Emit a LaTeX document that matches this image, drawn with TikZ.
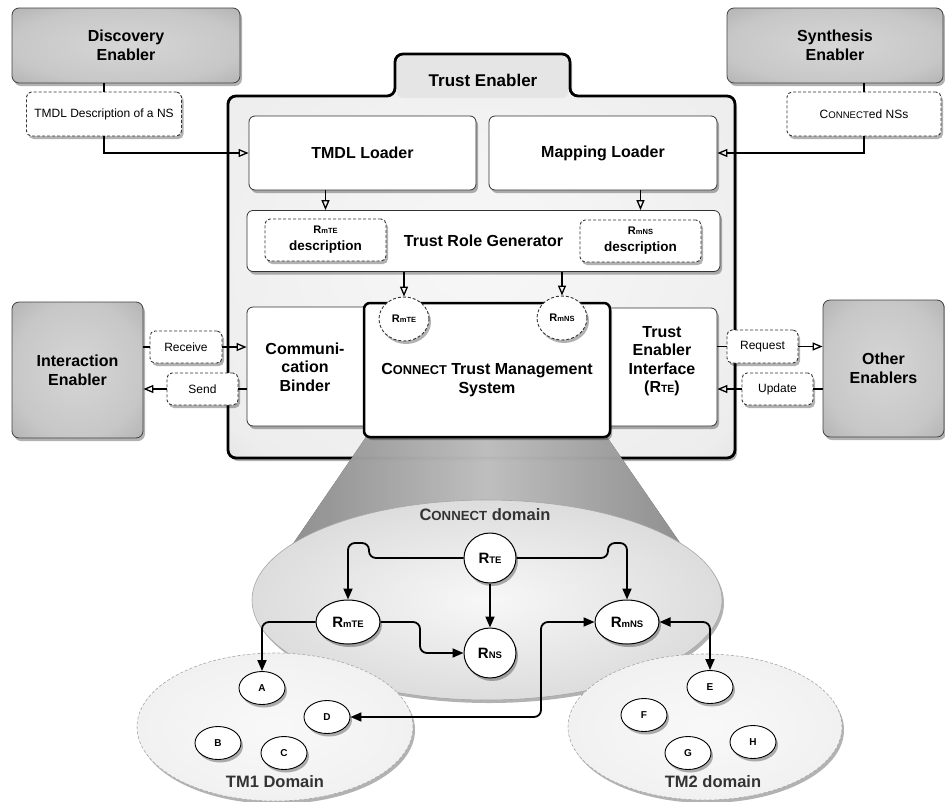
\documentclass[tikz,border=0pt]{standalone}
\usepackage{fontspec}
\setmainfont{Liberation Sans}
\usetikzlibrary{arrows.meta,shapes.geometric,shadows}
\newcommand\myfs[2]{\fontsize{#1}{#2}\selectfont}
\newcommand\Rx[3]{{\myfs{#1}{#1}R}{\myfs{#2}{#2}#3}}
\newcommand\cnct[1]{C{\myfs{#1}{#1}ONNECT}}
\definecolor{darktxt}{HTML}{333333}
\pgfdeclareradialshading{frameshade}{\pgfpoint{0bp}{0bp}}{color(0bp)=(black!3); color(32bp)=(black!7); color(46bp)=(black!18); color(54bp)=(black!36); color(75bp)=(black!45)}
\pgfdeclareradialshading{enashade}{\pgfpoint{0bp}{0bp}}{color(0bp)=(black!16); color(25bp)=(black!22); color(50bp)=(black!40); color(75bp)=(black!50)}
\begin{document}
\begin{tikzpicture}[x=1pt,y=-1pt,
  shadowed/.style={drop shadow={shadow xshift=2pt,shadow yshift=-3pt,opacity=0.3,fill=black}},
  enabler/.style={shadowed,draw=black!75,line width=0.8pt,rounded corners=7pt,shading=enashade,font=\bfseries\myfs{16}{19},align=center,inner sep=0pt},
  wbox/.style={shadowed,draw=black!80,fill=white,line width=0.8pt,rounded corners=6pt,font=\bfseries\myfs{16}{18.5},align=center,inner sep=0pt},
  dsh/.style={draw=black!80,dash pattern=on 3pt off 2pt,line width=0.9pt},
  msg/.style={shadowed,dsh,fill=white,rounded corners=5pt,font=\myfs{12}{14},align=center,inner sep=0pt},
  desc/.style={msg,font=\bfseries\myfs{13.5}{17}},
  smallrole/.style={shadowed,ellipse,dsh,fill=white,inner sep=0pt,font=\bfseries},
  role/.style={shadowed,ellipse,draw=black,fill=white,line width=1pt,inner sep=0pt,font=\bfseries},
  leaf/.style={shadowed,ellipse,draw=black,fill=white,line width=0.9pt,inner sep=0pt,minimum width=46pt,minimum height=33pt,font=\bfseries\myfs{10}{12}},
  tmdom/.style={shadowed,ellipse,draw=gray!70,dash pattern=on 3pt off 2pt,line width=0.6pt,inner color=gray!5,outer color=gray!11,inner sep=0pt},
  domlab/.style={font=\bfseries\myfs{16.5}{19},text=darktxt},
  conn/.style={line width=1.5pt},
  oarr/.style={-{Triangle[open,length=10pt,width=8pt,line width=1.3pt]}},
  bconn/.style={line width=1.8pt,rounded corners=7pt},
  farr/.style={-{Triangle[length=11pt,width=9pt]}},
  darr/.style={{Triangle[length=11pt,width=9pt]}-{Triangle[length=11pt,width=9pt]}}
]
\useasboundingbox (0,0) rectangle (945,801);

% outer enablers
\node[enabler,minimum width=228pt,minimum height=75pt] (disc) at (126,45.5) {Discovery\\Enabler};
\node[enabler,minimum width=216pt,minimum height=75pt] (syn) at (835,45.5) {Synthesis\\Enabler};
\node[enabler,minimum width=131pt,minimum height=136pt] (inter) at (77.5,370) {Interaction\\Enabler};
\node[enabler,minimum width=121pt,minimum height=137pt] (other) at (883.5,368.5) {Other\\Enablers};

% Trust Enabler frame with tab
\path[shadowed,draw=black,line width=2.8pt,rounded corners=8pt,shading=frameshade]
  (228,96) -- (395,96) -- (395,54) -- (570,54) -- (570,96) -- (735,96) -- (735,458) -- (228,458) -- cycle;
\fill[black!10,rounded corners=6pt] (397,56) rectangle (568,98);
\node[font=\bfseries\myfs{17}{20}] (tetitle) at (483,80) {Trust Enabler};

% cone of the magnifier
\fill[left color=gray!80,right color=gray!80,middle color=gray!30,opacity=0.85]
  (366,437) -- (607,437) -- (714,592) -- (260,592) -- cycle;

% inner boxes
\node[wbox,minimum width=227pt,minimum height=74pt] (tmdl) at (362.5,153) {TMDL Loader};
\node[wbox,minimum width=228pt,minimum height=74pt] (map) at (603,153) {Mapping Loader};
\node[wbox,minimum width=473pt,minimum height=61pt] (trg) at (483.5,241) {Trust Role Generator};
\node[desc,minimum width=121pt,minimum height=42pt] (rmtedesc) at (325.5,240) {\Rx{11}{7.5}{mTE}\\description};
\node[desc,minimum width=121pt,minimum height=42pt] (rmnsdesc) at (640.5,241) {\Rx{11}{7.5}{mNS}\\description};
\node[wbox,minimum width=123pt,minimum height=119pt] (binder) at (308.5,366.5) {};
\node[font=\bfseries\myfs{16}{18.5},align=center] (bindertxt) at (305,367) {Communi-\\cation\\Binder};
\node[wbox,minimum width=116pt,minimum height=118pt] (tei) at (659,367) {};
\node[font=\bfseries\myfs{16}{18.5},align=center] (teitxt) at (662,361) {Trust\\Enabler\\Interface\\(\Rx{16}{10.5}{TE})};
\node[wbox,draw=black,line width=2.5pt,minimum width=246pt,minimum height=134pt] (tms) at (487,370) {};
\node[font=\bfseries\myfs{16}{19},align=center] (tmstxt) at (487,380) {\cnct{12.8} Trust Management\\System};
\node[smallrole,minimum width=50pt,minimum height=44pt] (cmte) at (404,319) {\Rx{11}{7.5}{mTE}};
\node[smallrole,minimum width=50pt,minimum height=44pt] (cmns) at (562,318) {\Rx{11}{7.5}{mNS}};

% message boxes
\node[msg,minimum width=155pt,minimum height=44pt] (tmdldesc) at (104,114) {TMDL Description of a NS};
\node[msg,minimum width=154pt,minimum height=44pt] (cnsd) at (864,114) {\cnct{9.6}ed NSs};
\node[msg,minimum width=72pt,minimum height=32pt] (recv) at (186,347) {Receive};
\node[msg,minimum width=71pt,minimum height=32pt] (send) at (202.5,389) {Send};
\node[msg,minimum width=71pt,minimum height=33pt] (req) at (762.5,346.5) {Request};
\node[msg,minimum width=71pt,minimum height=32pt] (upd) at (777.5,389) {Update};

% upper connectors
\draw[conn] (disc.south -| tmdldesc.north) -- (tmdldesc.north);
\draw[conn,oarr] (tmdldesc.south) |- (tmdl.west);
\draw[conn] (syn.south -| cnsd.north) -- (cnsd.north);
\draw[conn,oarr] (cnsd.south) |- (map.east);
\draw[conn,oarr] (tmdl.south -| rmtedesc.north) -- (rmtedesc.north |- trg.north);
\draw[conn,oarr] (map.south -| rmnsdesc.north) -- (rmnsdesc.north |- trg.north);
\draw[conn,oarr] (trg.south -| cmte.north) -- (cmte.north);
\draw[conn,oarr] (trg.south -| cmns.north) -- (cmns.north);
\draw[conn] (inter.east |- recv.west) -- (recv.west);
\draw[conn,oarr] (recv.east) -- (recv.east -| binder.west);
\draw[conn] (binder.west |- send.east) -- (send.east);
\draw[conn,oarr] (send.west) -- (send.west -| inter.east);
\draw[conn] (tei.east |- req.west) -- (req.west);
\draw[conn,oarr] (req.east) -- (req.east -| other.west);
\draw[conn] (other.west |- upd.east) -- (upd.east);
\draw[conn,oarr] (upd.west) -- (upd.west -| tei.east);

% domains
\node[shadowed,ellipse,draw=gray!70,line width=0.6pt,inner color=gray!6,outer color=gray!27,minimum width=470pt,minimum height=200pt,inner sep=0pt] (cdom) at (487,600) {};
\node[domlab] (cdlab) at (485,515) {\cnct{13.2} domain};
\node[tmdom,minimum width=276pt,minimum height=148pt] (tm1) at (275,727) {};
\node[tmdom,minimum width=274pt,minimum height=146pt] (tm2) at (705,727) {};
\node[domlab] (tm1lab) at (275,782) {TM1 Domain};
\node[domlab] (tm2lab) at (713,782) {TM2 domain};

% role nodes
\node[role,minimum width=52pt,minimum height=50pt] (rte) at (490,558) {\Rx{15}{9.5}{TE}};
\node[role,minimum width=64pt,minimum height=44pt] (rmte) at (348,622) {\Rx{15}{9.5}{mTE}};
\node[role,minimum width=52pt,minimum height=50pt] (rns) at (490,653) {\Rx{15}{9.5}{NS}};
\node[role,minimum width=64pt,minimum height=44pt] (rmns) at (627,622) {\Rx{15}{9.5}{mNS}};

\node[leaf] (A) at (262,688) {A};
\node[leaf] (B) at (218,743) {B};
\node[leaf] (C) at (284,753) {C};
\node[leaf] (D) at (327,717) {D};
\node[leaf] (E) at (710,687) {E};
\node[leaf] (F) at (644,715) {F};
\node[leaf] (G) at (688,753) {G};
\node[leaf] (H) at (753,742) {H};

% lower connectors
\draw[bconn,farr] (rte.west) -- (369,558) -- (369,543) -- (348,543) -- (rmte.north);
\draw[bconn,farr] (rte.east) -- (608,558) -- (608,543) -- (627,543) -- (rmns.north);
\draw[bconn,farr] (rte.south) -- (rns.north);
\draw[bconn,farr] (rmte.east) -- (420,622) -- (420,653) -- (rns.west);
\draw[bconn,farr] (rmte.west) -| (A.north);
\draw[bconn,darr] (D.east) -- (541,717) -- (541,622) -- (rmns.west);
\draw[bconn,darr] (rmns.east) -| (E.north);
\end{tikzpicture}
\end{document}
